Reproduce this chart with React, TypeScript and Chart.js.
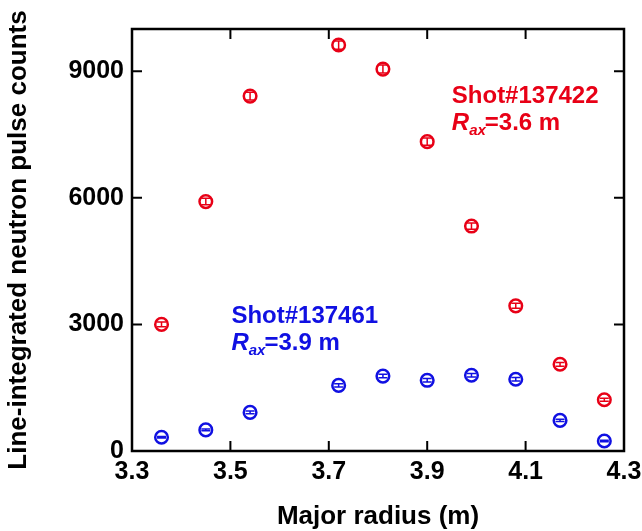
import React, { useEffect, useRef } from 'react';
import { Chart, registerables } from 'chart.js';

Chart.register(...registerables);

// ---- data ----
const majorRadius = [3.36, 3.45, 3.54, 3.72, 3.81, 3.9, 3.99, 4.08, 4.17, 4.26];
const shot137422 = [3000, 5910, 8410, 9620, 9050, 7330, 5330, 3440, 2055, 1215];
const shot137422Err = [55, 77, 92, 98, 95, 86, 73, 59, 45, 35];
const shot137461 = [325, 500, 915, 1555, 1775, 1675, 1795, 1700, 725, 237];
const shot137461Err = [18, 22, 30, 39, 42, 41, 42, 41, 27, 15];
const xTicks = [3.3, 3.5, 3.7, 3.9, 4.1, 4.3];
const yTicks = [0, 3000, 6000, 9000];
const shotNames = ['Shot#137422', 'Shot#137461'];
const raxValues = ['3.6 m', '3.9 m'];

const RED = 'rgb(232,0,22)';
const BLUE = 'rgb(16,16,226)';
const FAMILY = '"Liberation Sans", Arial, Helvetica, sans-serif';

const errors = [shot137422Err, shot137461Err];

const framePlugin = {
  id: 'frameAndExtras',
  afterDatasetsDraw(chart: any) {
    const { ctx, scales } = chart;
    const xs = scales.x;
    const ys = scales.y;
    ctx.save();
    chart.data.datasets.forEach((ds: any, di: number) => {
      ctx.strokeStyle = ds.borderColor;
      ctx.lineWidth = 1.5;
      ds.data.forEach((p: any, i: number) => {
        const e = errors[di][i];
        const px = xs.getPixelForValue(p.x);
        const yt = ys.getPixelForValue(p.y + e);
        const yb = ys.getPixelForValue(p.y - e);
        ctx.beginPath();
        ctx.moveTo(px, yt);
        ctx.lineTo(px, yb);
        ctx.moveTo(px - 4.5, yt);
        ctx.lineTo(px + 4.5, yt);
        ctx.moveTo(px - 4.5, yb);
        ctx.lineTo(px + 4.5, yb);
        ctx.stroke();
      });
    });
    ctx.restore();
  },
  afterDraw(chart: any) {
    const { ctx, chartArea: a, scales } = chart;
    const xs = scales.x;
    const ys = scales.y;
    ctx.save();
    ctx.strokeStyle = '#000';
    ctx.lineWidth = 2.5;
    ctx.strokeRect(a.left, a.top, a.right - a.left, a.bottom - a.top);
    ctx.lineWidth = 2;
    const tl = 10;
    ctx.beginPath();
    xTicks.forEach((v) => {
      const px = xs.getPixelForValue(v);
      if (px <= a.left + 1 || px >= a.right - 1) return;
      ctx.moveTo(px, a.bottom);
      ctx.lineTo(px, a.bottom - tl);
      ctx.moveTo(px, a.top);
      ctx.lineTo(px, a.top + tl);
    });
    yTicks.forEach((v) => {
      const py = ys.getPixelForValue(v);
      if (py >= a.bottom - 1 || py <= a.top + 1) return;
      ctx.moveTo(a.left, py);
      ctx.lineTo(a.left + tl, py);
      ctx.moveTo(a.right, py);
      ctx.lineTo(a.right - tl, py);
    });
    ctx.stroke();

    const drawLabel = (x: number, y: number, title: string, rax: string, color: string) => {
      ctx.fillStyle = color;
      ctx.textAlign = 'left';
      ctx.textBaseline = 'alphabetic';
      ctx.font = `bold 24px ${FAMILY}`;
      ctx.fillText(title, x, y);
      const y2 = y + 27;
      ctx.font = `italic bold 24px ${FAMILY}`;
      ctx.fillText('R', x, y2);
      let w = ctx.measureText('R').width;
      ctx.font = `italic bold 15px ${FAMILY}`;
      ctx.fillText('ax', x + w, y2 + 5);
      w += ctx.measureText('ax').width;
      ctx.font = `bold 24px ${FAMILY}`;
      ctx.fillText('=' + rax, x + w - 1, y2);
    };
    drawLabel(xs.getPixelForValue(3.95), ys.getPixelForValue(8258), shotNames[0], raxValues[0], RED);
    drawLabel(xs.getPixelForValue(3.502), ys.getPixelForValue(3026), shotNames[1], raxValues[1], BLUE);
    ctx.restore();
  },
};

export default function App() {
  const ref = useRef<HTMLCanvasElement | null>(null);
  useEffect(() => {
    if (!ref.current) return;
    const tickFont = { family: FAMILY, size: 25, weight: 'bold' as const, lineHeight: 1.2 };
    const titleFont = { family: FAMILY, size: 26, weight: 'bold' as const, lineHeight: 1 };
    const chart = new Chart(ref.current, {
      type: 'scatter',
      data: {
        datasets: [
          {
            label: shotNames[0],
            data: majorRadius.map((x, i) => ({ x, y: shot137422[i] })),
            borderColor: RED,
            backgroundColor: 'rgba(255,255,255,0)',
            pointRadius: 6.3,
            pointBorderWidth: 2.5,
            pointStyle: 'circle',
          },
          {
            label: shotNames[1],
            data: majorRadius.map((x, i) => ({ x, y: shot137461[i] })),
            borderColor: BLUE,
            backgroundColor: 'rgba(255,255,255,0)',
            pointRadius: 6.3,
            pointBorderWidth: 2.5,
            pointStyle: 'circle',
          },
        ],
      },
      options: {
        responsive: false,
        animation: false,
        layout: { padding: { left: 0, top: 29, right: 18, bottom: 0 } },
        plugins: { legend: { display: false }, tooltip: { enabled: false } },
        scales: {
          x: {
            type: 'linear',
            min: 3.3,
            max: 4.3,
            grid: { display: false, drawTicks: false },
            border: { display: false },
            afterBuildTicks: (s: any) => {
              s.ticks = xTicks.map((v) => ({ value: v }));
            },
            afterFit: (s: any) => {
              s.height = 80;
              s.paddingLeft = 0;
              s.paddingRight = 0;
            },
            ticks: {
              color: '#000',
              font: tickFont,
              padding: 6,
              maxRotation: 0,
              autoSkip: false,
              callback: (v: any) => Number(v).toFixed(1),
            },
            title: {
              display: true,
              text: 'Major radius (m)',
              color: '#000',
              font: titleFont,
              padding: { top: 0, bottom: 1 },
            },
          },
          y: {
            type: 'linear',
            min: 0,
            max: 10000,
            grid: { display: false, drawTicks: false },
            border: { display: false },
            afterBuildTicks: (s: any) => {
              s.ticks = yTicks.map((v) => ({ value: v }));
            },
            afterFit: (s: any) => {
              s.width = 132;
              s.paddingTop = 0;
              s.paddingBottom = 0;
            },
            ticks: {
              color: '#000',
              font: tickFont,
              padding: 8,
              autoSkip: false,
              callback: (v: any) => String(v),
            },
            title: {
              display: true,
              text: 'Line-integrated neutron pulse counts',
              color: '#000',
              font: titleFont,
              padding: { top: 6, bottom: 0 },
            },
          },
        },
      },
      plugins: [framePlugin],
    });
    return () => chart.destroy();
  }, []);
  return (
    <div style={{ position: 'absolute', left: 0, top: 0, width: 642, height: 531, background: '#fff' }}>
      <canvas ref={ref} width={642} height={531} style={{ display: 'block' }} />
    </div>
  );
}
